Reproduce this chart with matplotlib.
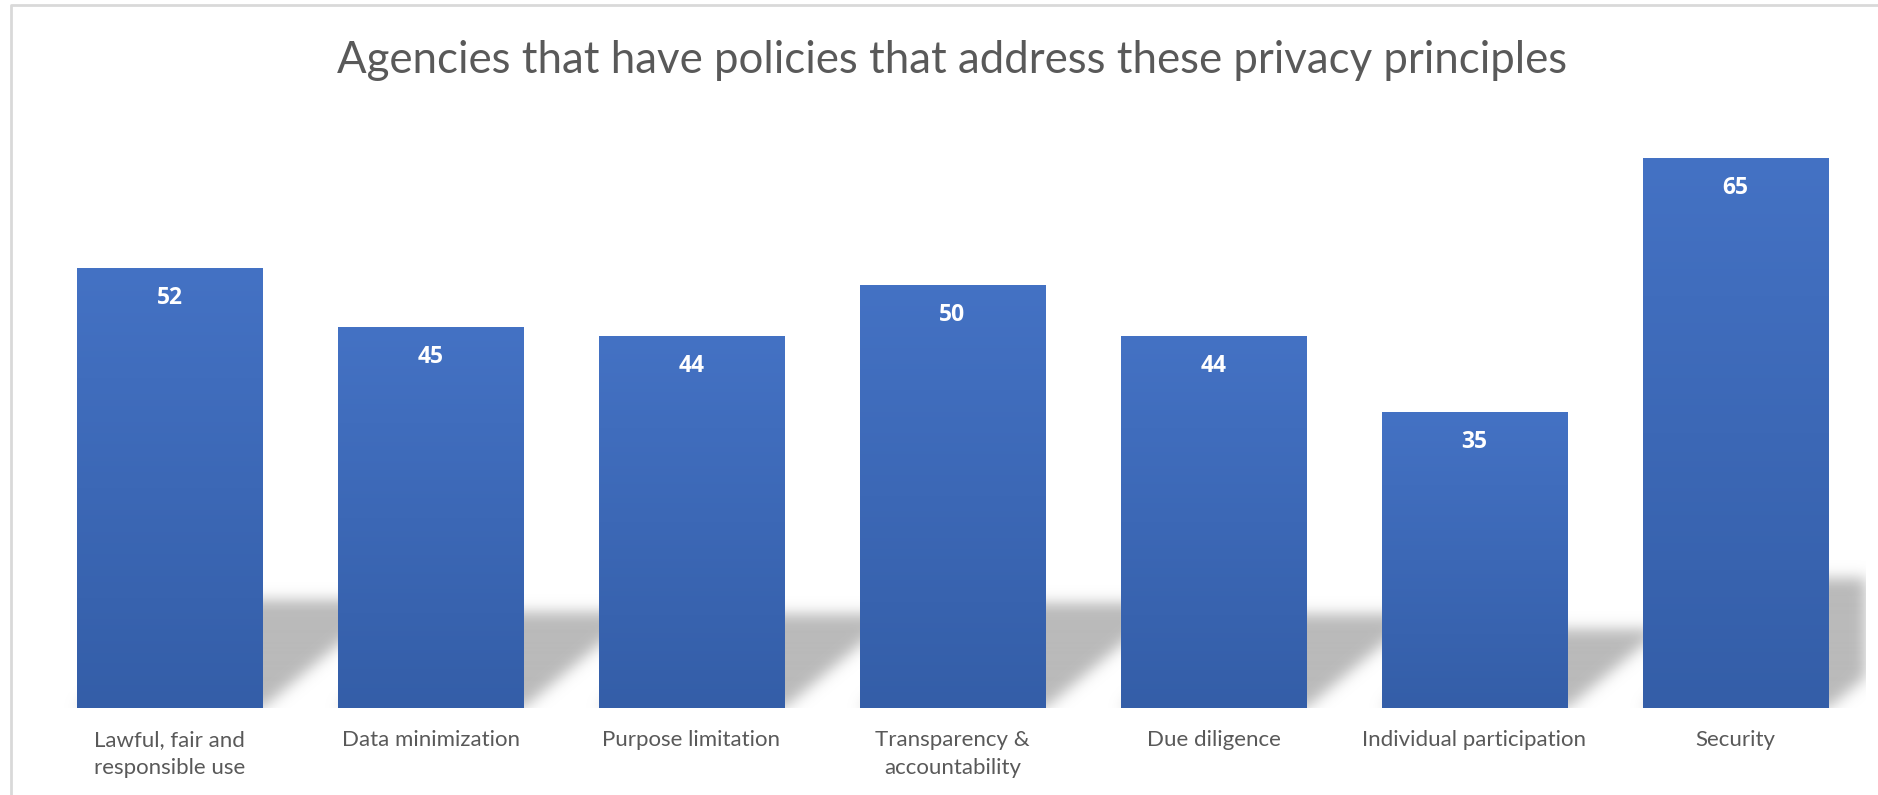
import matplotlib.pyplot as plt
import matplotlib.colors as mcolors
import numpy as np

# datos del grafico
categorias = ['Lawful, fair and\nresponsible use', 'Data minimization', 'Purpose limitation',
              'Transparency &\naccountability', 'Due diligence', 'Individual participation', 'Security']
valores = [52, 45, 44, 50, 44, 35, 65]
titulo = 'Agencies that have policies that address these privacy principles'

gris_texto = '#595959'
azul_arriba = '#4472C4'
azul_abajo = '#345EA8'

plt.rcParams['font.family'] = ['Lato', 'DejaVu Sans']

fig = plt.figure(figsize=(18.78, 7.95), dpi=100)

# fondo con degradado vertical (coordenadas en pixeles)
fondo = fig.add_axes([0, 0, 1, 1])
fondo.set_xlim(0, 1878)
fondo.set_ylim(795, 0)
fondo.axis('off')
paradas_y = [0, 60, 200, 350, 480, 570, 640, 700, 795]
paradas_g = [255, 253, 243, 228, 216, 214, 229, 241, 251]
yy = np.arange(795)
g = np.interp(yy, paradas_y, paradas_g) / 255
degradado = np.dstack([g, g, g])[:, :1, :].repeat(2, axis=1)
fondo.imshow(degradado, extent=[11, 1878, 795, 5], aspect='auto', zorder=0)
fondo.plot([11, 11, 1878], [795, 5, 5], color='#d9d9d9', lw=2, zorder=1)

fondo.text(952, 73, titulo, ha='center', va='baseline', fontsize=31.5,
           color=gris_texto)

# ejes principales
ax = fig.add_axes([39 / 1878, 87 / 795, 1827 / 1878, 592.3 / 795])
ax.set_facecolor('none')
x = np.arange(len(valores))
ax.set_xlim(-0.5, 6.5)
ax.set_ylim(0, 70)

# sombra en perspectiva detras de las barras
W, H = 1827, 592
px_x = W / 7
px_y = H / 70
ancho = 0.71
xs, ys = np.meshgrid(np.arange(W) + 0.5, np.arange(H) + 0.5)
mascara = np.zeros((H, W))
for xi, v in zip(x, valores):
    izq = (xi - ancho / 2 + 0.5) * px_x
    der = (xi + ancho / 2 + 0.5) * px_x
    hs = 20 + 0.2 * v * px_y
    k = 1.2
    m = (ys <= hs) & (xs >= izq + k * ys) & (xs <= der + k * ys)
    mascara[m] = 1.0

sigma = 7
t = np.arange(-3 * sigma, 3 * sigma + 1)
nucleo = np.exp(-t ** 2 / (2 * sigma ** 2))
nucleo /= nucleo.sum()
mascara = np.apply_along_axis(lambda f: np.convolve(f, nucleo, mode='same'), 1, mascara)
mascara = np.apply_along_axis(lambda c: np.convolve(c, nucleo, mode='same'), 0, mascara)

sombra = np.zeros((H, W, 4))
sombra[..., :3] = 180 / 255
sombra[..., 3] = mascara * 0.92
ax.imshow(sombra, extent=[-0.5, 6.5, 0, 70], origin='lower', aspect='auto', zorder=1)

# barras con degradado
barras = ax.bar(x, valores, width=ancho, color=azul_arriba, zorder=3)
c1 = np.array(mcolors.to_rgb(azul_abajo))
c2 = np.array(mcolors.to_rgb(azul_arriba))
f = np.linspace(0, 1, 256)[:, None]
grad = (c1 * (1 - f) + c2 * f)[:, None, :].repeat(2, axis=1)
for b in barras:
    im = ax.imshow(grad, extent=[b.get_x(), b.get_x() + b.get_width(), 0, b.get_height()],
                   origin='lower', aspect='auto', zorder=3.1)
    im.set_clip_path(b)

for xi, v in zip(x, valores):
    ax.annotate(str(v), (xi, v), xytext=(0, -21.6), textcoords='offset points',
                ha='center', va='center', fontsize=16.5, fontweight='bold', color='white',
                family=['Open Sans', 'DejaVu Sans'], zorder=5)

ax.set_xlim(-0.5, 6.5)
ax.set_ylim(0, 70)
ax.set_xticks(x)
ax.set_xticklabels(categorias, fontsize=16, color=gris_texto, multialignment='center',
                   linespacing=1.5)
ax.tick_params(axis='x', length=0, pad=16)
ax.set_yticks([])
for s in ax.spines.values():
    s.set_visible(False)

fig.savefig('out.png', dpi=100)
